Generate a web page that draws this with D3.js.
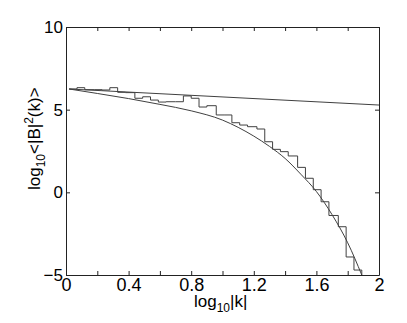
<!DOCTYPE html>
<html>
<head>
<meta charset="utf-8">
<script src="https://cdn.jsdelivr.net/npm/d3@7"></script>
<style>
  html, body { margin: 0; padding: 0; background: #fff; }
  svg text { font-family: "Liberation Sans", Arial, Helvetica, sans-serif; fill: #000; }
</style>
</head>
<body>
<svg id="chart" width="407" height="323"></svg>
<script>
// ---- data ----
const xTicks = [0, 0.2, 0.4, 0.6, 0.8, 1.0, 1.2, 1.4, 1.6, 1.8, 2.0];
const xTickLabels = ["0", "", "0.4", "", "0.8", "", "1.2", "", "1.6", "", "2"];
const yTicks = [-5, 0, 5, 10];
const yTickLabels = ["\u22125", "0", "5", "10"];

// histogram (step) bin edges in log10|k| and levels in log10<|B|^2>
const binEdges = [0.02, 0.07, 0.12, 0.18, 0.23, 0.28, 0.33, 0.38, 0.44, 0.49, 0.54, 0.59,
                  0.64, 0.70, 0.75, 0.80, 0.85, 0.90, 0.96, 1.01, 1.06, 1.11, 1.16, 1.22,
                  1.27, 1.32, 1.37, 1.42, 1.48, 1.53, 1.58, 1.63, 1.68, 1.74, 1.79, 1.84, 1.89];
const binLevels = [6.25, 6.33, 6.21, 6.21, 6.19, 6.33, 6.05, 6.03, 5.69, 5.78, 5.58, 5.46,
                   5.48, 5.48, 5.83, 5.69, 5.16, 5.24, 4.68, 4.68, 4.21, 4.07, 3.97, 3.83,
                   3.06, 2.60, 2.46, 2.20, 1.51, 0.85, 0.16, -0.57, -1.40, -2.08, -3.91, -4.70];

// straight power-law line
const lineX = [0.02, 2.0];
const lineY = [6.25, 5.28];

// curved model spectrum
const curveX = [0.02, 0.2, 0.4, 0.6, 0.8, 1.0, 1.1, 1.2, 1.3, 1.4, 1.5, 1.6, 1.7, 1.8, 1.89];
const curveY = [6.25, 5.98, 5.67, 5.32, 4.93, 4.37, 3.93, 3.40, 2.78, 2.05, 1.10, 0.05, -1.35, -3.05, -5.0];

// ---- layout ----
const svg = d3.select("#chart");
const L = 66, R = 379, T = 27, B = 275;
const x = d3.scaleLinear().domain([0, 2]).range([L, R]);
const y = d3.scaleLinear().domain([-5, 10]).range([B, T]);

svg.append("rect").attr("width", 407).attr("height", 323).attr("fill", "#fff");

svg.append("defs").append("clipPath").attr("id", "clip")
  .append("rect").attr("x", L).attr("y", T).attr("width", R - L).attr("height", B - T);

const plot = svg.append("g").attr("clip-path", "url(#clip)");
const strokeCol = "#404040";

// step histogram
const stepPts = binLevels.map((v, i) => [binEdges[i], v]);
stepPts.push([binEdges[binEdges.length - 1], binLevels[binLevels.length - 1]]);
stepPts.push([binEdges[binEdges.length - 1], -5]);
plot.append("path")
  .attr("d", d3.line().x(d => x(d[0])).y(d => y(d[1])).curve(d3.curveStepAfter)(stepPts))
  .attr("fill", "none").attr("stroke", strokeCol).attr("stroke-width", 1);

// straight line
plot.append("path")
  .attr("d", d3.line().x(d => x(d[0])).y(d => y(d[1]))(lineX.map((v, i) => [v, lineY[i]])))
  .attr("fill", "none").attr("stroke", strokeCol).attr("stroke-width", 1);

// curve
plot.append("path")
  .attr("d", d3.line().x(d => x(d[0])).y(d => y(d[1])).curve(d3.curveMonotoneX)(curveX.map((v, i) => [v, curveY[i]])))
  .attr("fill", "none").attr("stroke", strokeCol).attr("stroke-width", 1);

// ---- axes ----
const xAxis = svg.append("g").attr("transform", `translate(0,${B})`)
  .call(d3.axisBottom(x).tickValues(xTicks).tickSizeInner(-4).tickSizeOuter(0).tickPadding(2)
    .tickFormat((d, i) => xTickLabels[i]));
const xTop = svg.append("g").attr("transform", `translate(0,${T})`)
  .call(d3.axisTop(x).tickValues(xTicks).tickSizeInner(-4).tickSizeOuter(0).tickFormat(""));
const yAxis = svg.append("g").attr("transform", `translate(${L},0)`)
  .call(d3.axisLeft(y).tickValues(yTicks).tickSizeInner(-4).tickSizeOuter(0).tickPadding(3)
    .tickFormat((d, i) => yTickLabels[i]));
const yRight = svg.append("g").attr("transform", `translate(${R},0)`)
  .call(d3.axisRight(y).tickValues(yTicks).tickSizeInner(-4).tickSizeOuter(0).tickFormat(""));

[xAxis, xTop, yAxis, yRight].forEach(g => {
  g.select(".domain").attr("stroke", "#222").attr("stroke-width", 1);
  g.selectAll(".tick line").attr("stroke", "#222");
  g.selectAll("text").attr("fill", "#000")
    .style("font-family", '"Liberation Sans", Arial, sans-serif');
});
xAxis.selectAll("text").attr("font-size", 18).attr("dy", "0.75em");
yAxis.selectAll("text").attr("font-size", 17);

// ---- axis labels ----
const xl = svg.append("text").attr("x", 194).attr("y", 307).attr("text-anchor", "start").attr("font-size", 17);
xl.append("tspan").text("log");
xl.append("tspan").attr("font-size", 12).attr("dy", 4.5).text("10");
xl.append("tspan").attr("dy", -4.5).text("|k|");

const yl = svg.append("text").attr("transform", "translate(40,190) rotate(-90)")
  .attr("text-anchor", "start").attr("font-size", 17);
yl.append("tspan").text("log");
yl.append("tspan").attr("font-size", 12).attr("dy", 4.5).text("10");
yl.append("tspan").attr("dy", -4.5).text("<|B|");
yl.append("tspan").attr("font-size", 12).attr("dy", -7).text("2");
yl.append("tspan").attr("dy", 7).text("(k)>");
</script>
</body>
</html>
